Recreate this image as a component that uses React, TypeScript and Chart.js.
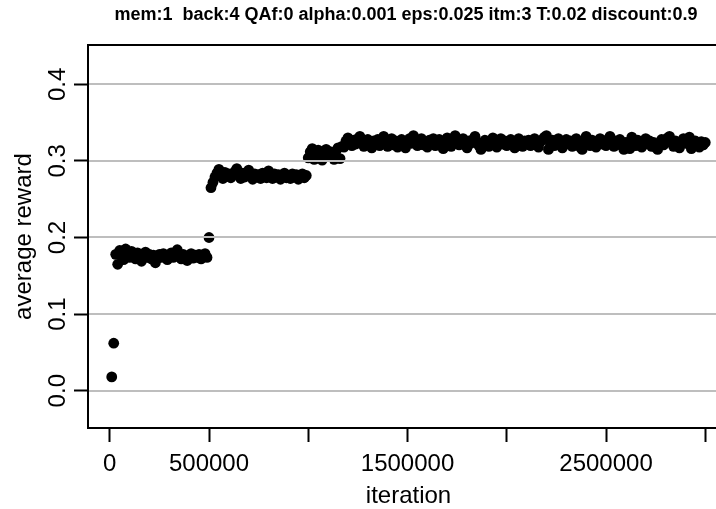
import React, { useEffect, useRef } from "react";
import { Chart, registerables } from "chart.js";

Chart.register(...registerables);

const TITLE = "mem:1  back:4 QAf:0 alpha:0.001 eps:0.025 itm:3 T:0.02 discount:0.9";
const X_TITLE = "iteration";
const Y_TITLE = "average reward";

const FIRST_ITER = 10000;
const LOG_INTERVAL = 10000;

const startRewards = [0.018, 0.062];
const phase1Rewards = [
  0.178, 0.165, 0.183, 0.176, 0.171, 0.185, 0.179, 0.174, 0.182, 0.177,
  0.172, 0.18, 0.176, 0.169, 0.175, 0.181, 0.174, 0.178, 0.172, 0.177,
  0.167, 0.173, 0.178, 0.174, 0.179, 0.176, 0.171, 0.175, 0.18, 0.174,
  0.177, 0.184, 0.176, 0.172, 0.178, 0.175, 0.17, 0.176, 0.179, 0.173,
  0.177, 0.174, 0.178, 0.172, 0.176, 0.179, 0.174,
];
const switch1Rewards = [0.2, 0.265];
const phase2Rewards = [
  0.272, 0.279, 0.284, 0.289, 0.281, 0.277, 0.285, 0.28, 0.283, 0.278,
  0.282, 0.286, 0.29, 0.281, 0.277, 0.284, 0.279, 0.283, 0.288, 0.28,
  0.276, 0.283, 0.279, 0.282, 0.277, 0.284, 0.28, 0.278, 0.287, 0.281,
  0.277, 0.283, 0.279, 0.282, 0.276, 0.281, 0.284, 0.278, 0.281, 0.277,
  0.283, 0.279, 0.282, 0.276, 0.28, 0.283, 0.278, 0.281,
];
const phase3Rewards = [
  0.304, 0.312, 0.316, 0.302, 0.309, 0.314, 0.307, 0.301, 0.311, 0.315,
  0.306, 0.312, 0.308, 0.302, 0.313, 0.317, 0.303, 0.319,
];
const phase4Rewards = [
  0.318, 0.326, 0.33, 0.324, 0.32, 0.327, 0.322, 0.329, 0.332, 0.325,
  0.319, 0.323, 0.328, 0.321, 0.317, 0.326, 0.322, 0.328, 0.32, 0.325,
  0.332, 0.327, 0.319, 0.324, 0.329, 0.321, 0.326, 0.318, 0.323, 0.328,
  0.322, 0.317, 0.325, 0.329, 0.323, 0.333, 0.326, 0.32, 0.324, 0.329,
  0.321, 0.325, 0.318, 0.327, 0.323, 0.329, 0.32, 0.324, 0.328, 0.322,
  0.316, 0.325, 0.33, 0.323, 0.319, 0.327, 0.333, 0.326, 0.321, 0.324,
  0.329, 0.322, 0.317, 0.326, 0.323, 0.328, 0.332, 0.325, 0.32, 0.315,
  0.322, 0.327, 0.324, 0.319, 0.326, 0.33, 0.323, 0.318, 0.325, 0.329,
  0.322, 0.326, 0.32, 0.324, 0.328, 0.321, 0.317, 0.325, 0.329, 0.323,
  0.319, 0.326, 0.322, 0.327, 0.32, 0.324, 0.329, 0.322, 0.318, 0.325,
  0.328, 0.331, 0.333, 0.315, 0.322, 0.327, 0.32, 0.325, 0.329, 0.321,
  0.317, 0.324, 0.328, 0.322, 0.326, 0.319, 0.324, 0.329, 0.321, 0.318,
  0.315, 0.326, 0.332, 0.325, 0.32, 0.327, 0.323, 0.318, 0.325, 0.329,
  0.322, 0.326, 0.32, 0.328, 0.332, 0.324, 0.319, 0.326, 0.322, 0.328,
  0.32, 0.315, 0.324, 0.319, 0.316, 0.331, 0.325, 0.32, 0.327, 0.323,
  0.318, 0.325, 0.329, 0.322, 0.326, 0.319, 0.324, 0.318, 0.315, 0.323,
  0.328, 0.321, 0.326, 0.33, 0.332, 0.324, 0.319, 0.326, 0.322, 0.317,
  0.325, 0.329, 0.323, 0.328, 0.331, 0.316, 0.32, 0.326, 0.322, 0.318,
  0.325, 0.321, 0.324,
];

const rewards = [
  ...startRewards,
  ...phase1Rewards,
  ...switch1Rewards,
  ...phase2Rewards,
  ...phase3Rewards,
  ...phase4Rewards,
];

const X_TICKS = [0, 500000, 1000000, 1500000, 2000000, 2500000, 3000000];
const X_TICK_LABELS = ["0", "500000", "", "1500000", "", "2500000", ""];
const Y_TICKS = [0, 0.1, 0.2, 0.3, 0.4];
const Y_TICK_LABELS = ["0.0", "0.1", "0.2", "0.3", "0.4"];

const FONT = '"Liberation Sans", Arial, Helvetica, sans-serif';

const overlay = {
  id: "overlay",
  afterDatasetsDraw(chart: any) {
    const { ctx, chartArea: a, scales } = chart;
    const y = scales.y;
    ctx.save();
    ctx.strokeStyle = "#bebebe";
    ctx.lineWidth = 2;
    Y_TICKS.forEach((v) => {
      const py = Math.round(y.getPixelForValue(v));
      ctx.beginPath();
      ctx.moveTo(a.left, py);
      ctx.lineTo(a.right, py);
      ctx.stroke();
    });
    ctx.strokeStyle = "#000";
    ctx.lineWidth = 2;
    ctx.strokeRect(a.left, a.top, a.right - a.left, a.bottom - a.top);
    ctx.restore();
  },
  afterDraw(chart: any) {
    const { ctx, chartArea: a, scales } = chart;
    const x = scales.x;
    const y = scales.y;
    ctx.save();
    ctx.fillStyle = "#000";
    // title
    ctx.font = `bold 18px ${FONT}`;
    ctx.textAlign = "center";
    ctx.textBaseline = "alphabetic";
    ctx.fillText(TITLE, 406, 20);
    // x tick labels
    ctx.font = `24px ${FONT}`;
    X_TICKS.forEach((v, i) => {
      const lbl = X_TICK_LABELS[i];
      if (!lbl) return;
      ctx.fillText(lbl, x.getPixelForValue(v), 470.5);
    });
    // x title
    ctx.fillText(X_TITLE, (a.left + a.right) / 2, 503);
    // y tick labels (rotated)
    Y_TICKS.forEach((v, i) => {
      ctx.save();
      ctx.translate(65, y.getPixelForValue(v));
      ctx.rotate(-Math.PI / 2);
      ctx.fillText(Y_TICK_LABELS[i], 0, 0);
      ctx.restore();
    });
    // y title
    ctx.save();
    ctx.translate(31, (a.top + a.bottom) / 2);
    ctx.rotate(-Math.PI / 2);
    ctx.fillText(Y_TITLE, 0, 0);
    ctx.restore();
    ctx.restore();
  },
};

export default function App() {
  const canvasRef = useRef<HTMLCanvasElement | null>(null);

  useEffect(() => {
    if (!canvasRef.current) return;
    const points = rewards.map((r, i) => ({ x: FIRST_ITER + i * LOG_INTERVAL, y: r }));
    const chart = new Chart(canvasRef.current, {
      type: "scatter",
      data: {
        datasets: [
          {
            data: points,
            backgroundColor: "#000",
            borderWidth: 0,
            pointRadius: 5.4,
            pointHoverRadius: 5.4,
          },
        ],
      },
      options: {
        animation: false,
        responsive: true,
        maintainAspectRatio: false,
        devicePixelRatio: 1,
        layout: { padding: { top: 45, right: 11, left: 0, bottom: 0 } },
        plugins: {
          legend: { display: false },
          tooltip: { enabled: false },
          title: { display: false },
        },
        scales: {
          x: {
            type: "linear",
            min: -109600,
            max: 3119600,
            afterBuildTicks: (s: any) => {
              s.ticks = X_TICKS.map((v) => ({ value: v }));
            },
            afterFit: (s: any) => {
              s.height = 81;
            },
            ticks: { color: "rgba(0,0,0,0)", autoSkip: false, maxRotation: 0, minRotation: 0 },
            grid: {
              display: true,
              drawOnChartArea: false,
              drawTicks: true,
              tickLength: 14,
              tickColor: "#000",
              tickWidth: 2,
            },
            border: { display: false },
          },
          y: {
            type: "linear",
            min: -0.0487,
            max: 0.4513,
            afterBuildTicks: (s: any) => {
              s.ticks = Y_TICKS.map((v) => ({ value: v }));
            },
            afterFit: (s: any) => {
              s.width = 88;
            },
            ticks: { color: "rgba(0,0,0,0)", autoSkip: false },
            grid: {
              display: true,
              drawOnChartArea: false,
              drawTicks: true,
              tickLength: 14,
              tickColor: "#000",
              tickWidth: 2,
            },
            border: { display: false },
          },
        },
      },
      plugins: [overlay],
    });
    return () => chart.destroy();
  }, []);

  return (
    <div style={{ position: "fixed", left: 0, top: 0, width: 740, height: 509, background: "#fff" }}>
      <canvas ref={canvasRef} />
    </div>
  );
}
